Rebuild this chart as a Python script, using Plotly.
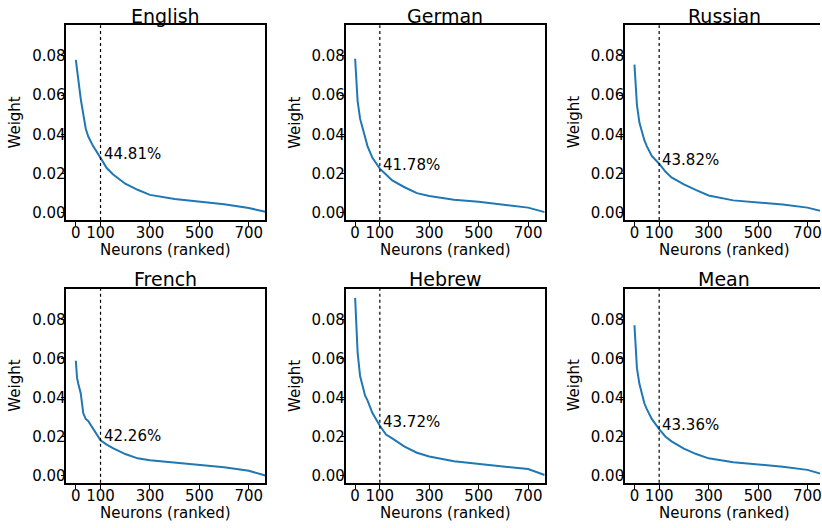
import plotly.graph_objects as go

# ---------------- data ----------------
ranks = [0, 5, 10, 20, 30, 40, 50, 70, 100, 125, 150, 200, 250, 300, 400, 500, 600, 700, 767]

english = [0.078, 0.071, 0.068, 0.058, 0.051, 0.043, 0.039, 0.034, 0.028, 0.0228, 0.0196, 0.0148, 0.0117, 0.0091, 0.0070, 0.0056, 0.0043, 0.0024, 0.0005]
german  = [0.0786, 0.065, 0.057, 0.048, 0.043, 0.038, 0.034, 0.028, 0.0225, 0.0195, 0.0165, 0.0130, 0.0100, 0.0085, 0.0066, 0.0056, 0.0042, 0.0026, 0.0003]
russian = [0.0756, 0.066, 0.055, 0.046, 0.041, 0.037, 0.034, 0.029, 0.0250, 0.0210, 0.0180, 0.0145, 0.0115, 0.0088, 0.0063, 0.0052, 0.0042, 0.0026, 0.0005]
french  = [0.0588, 0.050, 0.047, 0.042, 0.032, 0.029, 0.028, 0.024, 0.0180, 0.0158, 0.0140, 0.0110, 0.0088, 0.0078, 0.0066, 0.0055, 0.0043, 0.0024, 0.0000]
hebrew  = [0.0910, 0.076, 0.063, 0.051, 0.046, 0.041, 0.0385, 0.032, 0.0255, 0.0210, 0.0190, 0.0148, 0.0117, 0.0098, 0.0073, 0.0059, 0.0048, 0.0033, 0.0003]
mean    = [0.0770, 0.064, 0.055, 0.047, 0.042, 0.037, 0.034, 0.029, 0.0238, 0.0200, 0.0175, 0.0138, 0.0110, 0.0088, 0.0068, 0.0056, 0.0045, 0.0029, 0.0005]

titles = ["English", "German", "Russian", "French", "Hebrew", "Mean"]
series = [english, german, russian, french, hebrew, mean]
percent_labels = ["44.81%", "41.78%", "43.82%", "42.26%", "43.72%", "43.36%"]
cutoff = 100

x_tickvals = [0, 100, 300, 500, 700]
y_tickvals = [0.00, 0.02, 0.04, 0.06, 0.08]
y_ticktext = ["0.00", "0.02", "0.04", "0.06", "0.08"]
x_label = "Neurons (ranked)"
y_label = "Weight"

# ---------------- layout geometry ----------------
W, H = 822, 528
FONT = "DejaVu Sans"
col_left = [66.5, 346.5, 626.5]
col_right = [266.0, 546.0, 822.0]
row_top = [25.3, 289.8]
row_bot = [220.8, 484.6]
full_w = 199.5
x_lo, x_hi = -38.35, 767.0

fig = go.Figure()
annotations = []
shapes = []

for i, (title, ys, pct) in enumerate(zip(titles, series, percent_labels)):
    r, c = divmod(i, 3)
    n = i + 1
    xa = "x" if n == 1 else f"x{n}"
    ya = "y" if n == 1 else f"y{n}"
    xkey = "xaxis" if n == 1 else f"xaxis{n}"
    ykey = "yaxis" if n == 1 else f"yaxis{n}"

    fig.add_trace(go.Scatter(x=ranks, y=ys, mode="lines",
                             line=dict(color="#1f77b4", width=2),
                             xaxis=xa, yaxis=ya, showlegend=False,
                             hoverinfo="skip"))

    xr_hi = x_lo + (col_right[c] - col_left[c]) / full_w * (x_hi - x_lo)
    truncated = col_right[c] >= W

    fig.layout[xkey] = dict(
        domain=[col_left[c] / W, min(col_right[c] / W, 1.0)],
        range=[x_lo, xr_hi], anchor=ya,
        tickvals=x_tickvals, ticks="outside", ticklen=4, tickwidth=1.2,
        tickcolor="black", showline=True, linecolor="black", linewidth=1.5,
        mirror=True, showgrid=False, zeroline=False,
        ticklabelstandoff=-6, ticklabeloverflow="allow",
        tickfont=dict(family=FONT, size=15, color="black"),
    )
    fig.layout[ykey] = dict(
        domain=[1 - row_bot[r] / H, 1 - row_top[r] / H],
        range=[-0.0037, 0.0957], anchor=xa,
        tickvals=y_tickvals, ticktext=y_ticktext,
        ticks="outside", ticklen=4, tickwidth=1.2, tickcolor="black",
        showline=True, linecolor="black", linewidth=1.5,
        mirror=(not truncated), showgrid=False, zeroline=False,
        ticklabelstandoff=-8,
        tickfont=dict(family=FONT, size=15, color="black"),
    )

    # dotted cutoff line
    shapes.append(dict(type="line", xref=xa, yref=f"{ya} domain",
                       x0=cutoff, x1=cutoff, y0=0, y1=1,
                       line=dict(color="black", width=1.2, dash="dot")))

    # percentage label
    y100 = ys[ranks.index(cutoff)]
    annotations.append(dict(xref=xa, yref=ya, x=cutoff, y=y100, text=pct,
                            showarrow=False, xanchor="left", yanchor="bottom",
                            xshift=1, yshift=-7,
                            font=dict(family=FONT, size=15, color="black")))

    cx = (col_left[c] + col_left[c] + full_w) / 2
    # title
    annotations.append(dict(xref="paper", yref="paper", x=cx / W,
                            y=1 - (row_top[r] - 9.5) / H, text=title,
                            showarrow=False, xanchor="center", yanchor="middle",
                            font=dict(family=FONT, size=19, color="black")))
    # x label
    annotations.append(dict(xref="paper", yref="paper", x=cx / W,
                            y=1 - (row_bot[r] + 30) / H, text=x_label,
                            showarrow=False, xanchor="center", yanchor="middle",
                            font=dict(family=FONT, size=15, color="black")))
    # y label
    cy = (row_top[r] + row_bot[r]) / 2
    annotations.append(dict(xref="paper", yref="paper",
                            x=(col_left[c] - 51.5) / W, y=1 - cy / H,
                            text=y_label, textangle=-90,
                            showarrow=False, xanchor="center", yanchor="middle",
                            font=dict(family=FONT, size=15, color="black")))

fig.update_layout(width=W, height=H, margin=dict(l=0, r=0, t=0, b=0),
                  paper_bgcolor="white", plot_bgcolor="white",
                  annotations=annotations, shapes=shapes,
                  font=dict(family=FONT, size=15, color="black"))

fig.write_html("out.html", config={"displayModeBar": False})
